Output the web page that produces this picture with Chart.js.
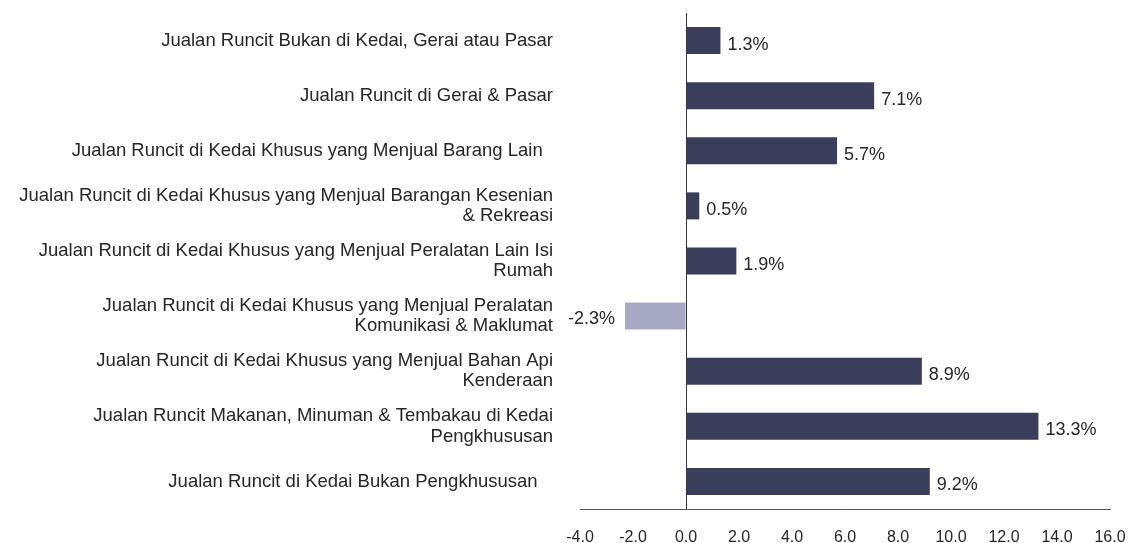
<!DOCTYPE html>
<html>
<head>
<meta charset="utf-8">
<script src="https://cdn.jsdelivr.net/npm/chart.js@4"></script>
<style>
  html, body { margin: 0; padding: 0; background: #fff; }
  #wrap { width: 1130px; height: 543px; }
</style>
</head>
<body>
<div id="wrap"><canvas id="salesChart" width="1130" height="543"></canvas></div>
<script>
// kategori jualan runcit
const categories = [
    'Jualan Runcit Bukan di Kedai, Gerai atau Pasar',
    'Jualan Runcit di Gerai & Pasar',
    'Jualan Runcit di Kedai Khusus yang Menjual Barang Lain  ',
    ['Jualan Runcit di Kedai Khusus yang Menjual Barangan Kesenian', '& Rekreasi'],
    ['Jualan Runcit di Kedai Khusus yang Menjual Peralatan Lain Isi', 'Rumah'],
    ['Jualan Runcit di Kedai Khusus yang Menjual Peralatan', 'Komunikasi & Maklumat'],
    ['Jualan Runcit di Kedai Khusus yang Menjual Bahan Api', 'Kenderaan'],
    ['Jualan Runcit Makanan, Minuman & Tembakau di Kedai', 'Pengkhususan'],
    'Jualan Runcit di Kedai Bukan Pengkhususan   '
];
const growth = [1.3, 7.1, 5.7, 0.5, 1.9, -2.3, 8.9, 13.3, 9.2];
const xTicks = [-4, -2, 0, 2, 4, 6, 8, 10, 12, 14, 16];

const barColor = '#3b3e5a';
const negColor = '#a8a9c5';
const fontFamily = '"Liberation Sans", Arial, sans-serif';

// label nilai di hujung bar
const valueLabels = {
    id: 'valueLabels',
    afterDatasetsDraw(chart) {
        const ctx = chart.ctx;
        const meta = chart.getDatasetMeta(0);
        ctx.save();
        ctx.font = '18px ' + fontFamily;
        ctx.fillStyle = '#262626';
        ctx.textBaseline = 'middle';
        meta.data.forEach((bar, i) => {
            const v = growth[i];
            const txt = v.toFixed(1) + '%';
            if (v >= 0) {
                ctx.textAlign = 'left';
                ctx.fillText(txt, bar.x + 7, bar.y + 4);
            } else {
                ctx.textAlign = 'right';
                ctx.fillText(txt, bar.x - 10, bar.y + 3);
            }
        });
        ctx.restore();
    }
};

const data = {
    labels: categories,
    datasets: [{
        data: growth,
        backgroundColor: growth.map(v => v < 0 ? negColor : barColor),
        barPercentage: 0.49,
        categoryPercentage: 1.0
    }]
};

const config = {
    type: 'bar',
    data: data,
    options: {
        indexAxis: 'y',
        responsive: false,
        animation: false,
        layout: { padding: { top: 13, right: 20, left: 0, bottom: 0 } },
        plugins: {
            legend: { display: false },
            tooltip: { enabled: false }
        },
        scales: {
            x: {
                min: -4,
                max: 16,
                afterBuildTicks: (axis) => { axis.ticks = xTicks.map(v => ({ value: v })); },
                afterFit: (axis) => { axis.height = 34; axis.paddingLeft = 0; axis.paddingRight = 0; },
                border: { display: true, color: '#555' },
                grid: {
                    drawTicks: false,
                    color: (c) => c.tick && c.tick.value === 0 ? '#333' : 'transparent'
                },
                ticks: {
                    padding: 19,
                    color: '#262626',
                    font: { family: fontFamily, size: 16 },
                    callback: (v) => Number(v).toFixed(1)
                }
            },
            y: {
                border: { display: false },
                grid: { display: false, drawTicks: false },
                afterFit: (axis) => { axis.width = 580; axis.paddingTop = 0; axis.paddingBottom = 0; },
                ticks: {
                    padding: 27,
                    color: '#262626',
                    font: { family: fontFamily, size: 18.5, lineHeight: 1.1 }
                }
            }
        }
    },
    plugins: [valueLabels]
};

const salesChart = new Chart(document.getElementById('salesChart'), config);
</script>
</body>
</html>
